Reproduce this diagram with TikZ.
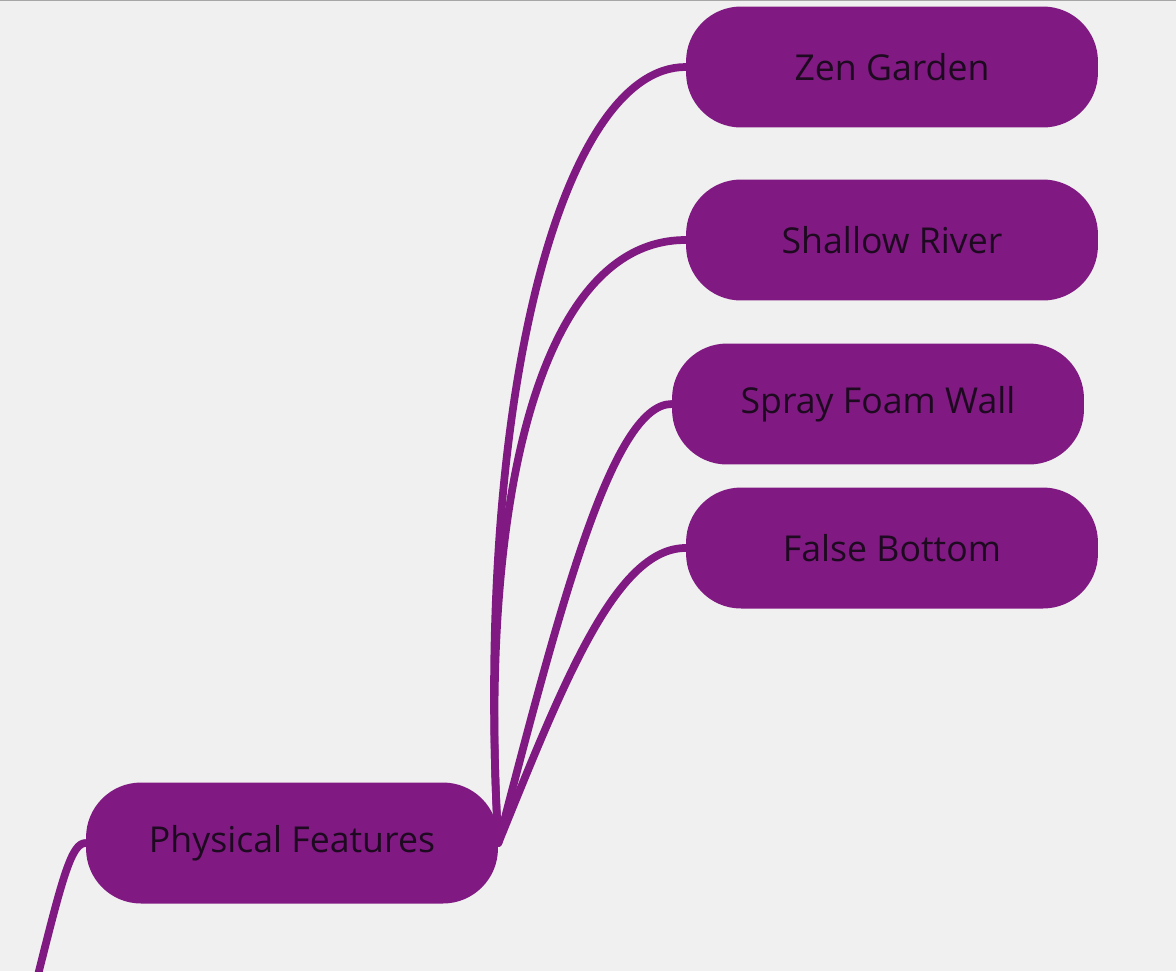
\documentclass[tikz,border=0pt]{standalone}
\usepackage{fontspec}
\setmainfont{Open Sans}
\usepackage{tikz}
\usepackage{xcolor}
\definecolor{mmpurple}{RGB}{128,26,130}
\definecolor{mmback}{RGB}{240,240,240}
\definecolor{mmtext}{RGB}{30,10,32}

\begin{document}
\begin{tikzpicture}[x=0.02cm,y=-0.02cm]%
  \tikzstyle{topic}=[rectangle,fill=mmpurple,rounded corners=1.1cm,minimum width=8.24cm,minimum height=2.42cm,inner sep=0,text=mmtext,font=\fontsize{20.3}{24}\selectfont]
  \tikzstyle{link}=[draw=mmpurple,line width=4.4pt,line cap=round]
  \fill[mmback] (0,0) rectangle (1176,971);
  \useasboundingbox (0,0) rectangle (1176,971);
  \draw[gray!70,line width=1.2pt] (0,0) -- (1176,0);
  \node(0)[topic] at (292,843) {Physical Features};
  \node(1)[topic] at (892,67) {Zen Garden};
  \node(2)[topic] at (892,240) {Shallow River};
  \node(3)[topic] at (878,404) {Spray Foam Wall};
  \node(4)[topic] at (892,548) {False Bottom};
  \coordinate(in) at (38,975);
  \draw[link] (in) .. controls +(25,-100) and +(-14,0) .. (0.west);
  \draw[link] (0.east) .. controls +(-25,-440) and +(-125,0) .. (1.west);
  \draw[link] (0.east) .. controls +(-20,-330) and +(-150,0) .. (2.west);
  \draw[link] (0.east) .. controls +(60,-230) and +(-60,0) .. (3.west);
  \draw[link] (0.east) .. controls +(65,-160) and +(-70,0) .. (4.west);
\end{tikzpicture}
\end{document}
